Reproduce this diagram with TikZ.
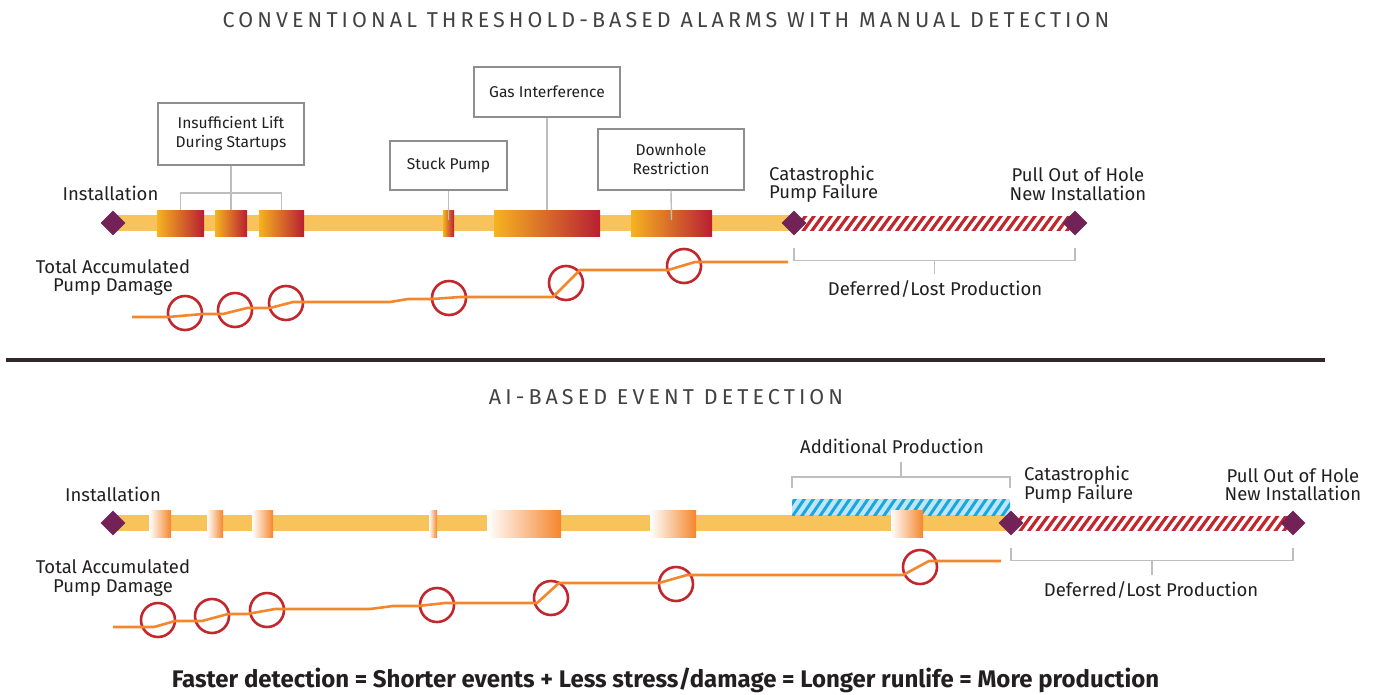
\documentclass[tikz,border=0pt]{standalone}
\usepackage{fontspec}
\setmainfont{Fira Sans}
\newfontfamily\titlefont[LetterSpace=19]{Fira Sans}
\usetikzlibrary{shapes.geometric,calc}
\pgfdeclarelayer{bg}
\pgfsetlayers{bg,main}
\definecolor{barc}{HTML}{F9C35B}
\definecolor{plum}{HTML}{722257}
\definecolor{gy}{HTML}{F5B321}
\definecolor{gm}{HTML}{E0782F}
\definecolor{gr}{HTML}{B81F32}
\definecolor{oc}{HTML}{F4862B}
\definecolor{opale}{HTML}{FAD0AE}
\definecolor{rc}{HTML}{C1272D}
\definecolor{txt}{HTML}{231F20}
\definecolor{boxc}{HTML}{8E8E8E}
\definecolor{conc}{HTML}{BEBEBE}
\definecolor{bluef}{HTML}{BFE6F8}
\definecolor{blues}{HTML}{1AA7E0}
\tikzset{
 pdiamond/.style={diamond, fill=plum, minimum width=25pt, minimum height=25pt, inner sep=0pt},
 evtop/.style={rectangle, left color=gy, middle color=gm, right color=gr, minimum height=26pt, inner sep=0pt},
 evbot/.style={rectangle, left color=white, middle color=opale, right color=oc, minimum height=27pt, inner sep=0pt},
 evbox/.style={draw=boxc, line width=1.4pt, fill=white, inner sep=0pt, font=\fontsize{15.6}{19}\selectfont, text=txt, align=center},
 lbl/.style={font=\fontsize{18.5}{18.5}\selectfont, text=txt, align=center, inner sep=0pt},
 conn/.style={draw=conc, line width=1.4pt},
 barline/.style={draw=barc, line width=16pt},
 dmg/.style={draw=oc, line width=2.6pt, line join=round},
 circ/.style={circle, draw=rc, line width=2.6pt, minimum size=34pt, inner sep=0pt},
 ttl/.style={font=\titlefont\fontsize{21.5}{24}\selectfont, text=txt!85, inner sep=0pt},
 rstripe/.style={draw=rc, line width=3.2pt},
 bstripe/.style={draw=blues, line width=3pt},
}
\begin{document}
\begin{tikzpicture}[x=1pt,y=-1pt]
\useasboundingbox (0,0) rectangle (1376,694);

% ---------------- TOP SECTION ----------------
\node[ttl] (title1) at (666,20) {CONVENTIONAL THRESHOLD-BASED ALARMS WITH MANUAL DETECTION};

\node[pdiamond] (inst1) at (113,223) {};
\node[pdiamond] (cat1) at (794,223) {};
\node[pdiamond] (pull1) at (1075,223) {};

\begin{pgfonlayer}{bg}
\draw[barline] (inst1.center) -- (cat1.center);
\begin{scope}
\clip ([yshift=7pt]cat1.center) rectangle ([yshift=-7pt]pull1.center);
\foreach \i in {-1,...,34} \draw[rstripe] ({794+\i*8.5},232) -- ++(13,-18);
\end{scope}
\end{pgfonlayer}

\node[evtop, minimum width=47pt] (e1) at (180.5,223) {};
\node[evtop, minimum width=32pt] (e2) at (231,223) {};
\node[evtop, minimum width=45pt] (e3) at (281.5,223) {};
\node[evtop, minimum width=11pt] (e4) at (448.5,223) {};
\node[evtop, minimum width=106pt] (e5) at (547,223) {};
\node[evtop, minimum width=81pt] (e6) at (671.5,223) {};

\node[evbox, minimum width=146pt, minimum height=62pt] (b1) at (231,134) {Insufficient Lift\\During Startups};
\node[evbox, minimum width=117pt, minimum height=49pt] (b2) at (448.5,165.5) {Stuck Pump};
\node[evbox, minimum width=146pt, minimum height=50pt] (b3) at (547,92) {Gas Interference};
\node[evbox, minimum width=146pt, minimum height=61pt] (b4) at (671,159.5) {Downhole\\Restriction};

\draw[conn] (b1.south) -- (e2.north);
\draw[conn] (e1.north) -- ++(0,-17) -| (e3.north);
\draw[conn] (b2.south) -- ([yshift=3pt]e4.center);
\draw[conn] (b3.south) -- (e5.north);
\draw[conn] (b4.south) -- ([yshift=3pt]e6.center);

\node[lbl] (instl1) at (110.5,193) {Installation};
\node[lbl, anchor=west, align=left] (catl1) at (769,184) {Catastrophic\\Pump Failure};
\node[lbl] (pulll1) at (1078,184) {Pull Out of Hole\\New Installation};
\node[lbl] (dmgl1) at (113,277.5) {Total Accumulated\\Pump Damage};
\node[lbl] (def1) at (935,289) {Deferred/Lost Production};

\draw[conn] ([yshift=-12pt]cat1.south) -- ([yshift=-24.5pt]cat1.south) -| ([yshift=-12pt]pull1.south);
\draw[conn] ($([yshift=-24.5pt]cat1.south)!0.5!([yshift=-24.5pt]pull1.south)$) -- ++(0,14);

\foreach \n/\p in {c1/{(185,313)},c2/{(235,310)},c3/{(286,303)},c4/{(449,298)},c5/{(566,283)},c6/{(684,266)}}
  \node[circ] (\n) at \p {};

\draw[dmg] (132,317) -- (168,317) -- (203,314) -- (223,314) -- (247,308) -- (270,308) -- (293,302) -- (390,302) -- (408,299) -- (432,299) -- (460,297) -- (553,297) -- (580,270) -- (668,270) -- (695,262) -- (788,262);

% divider
\draw[line width=3.5pt, draw=txt!95] (6,360) -- (1325,360);

% ---------------- BOTTOM SECTION ----------------
\node[ttl] (title2) at (666,397) {AI-BASED EVENT DETECTION};

\node[pdiamond] (inst2) at (113,523) {};
\node[pdiamond] (cat2) at (1011,523) {};
\node[pdiamond] (pull2) at (1293,523) {};

\coordinate (hal) at (792,488);
\coordinate (har) at (1010,488);

\begin{pgfonlayer}{bg}
\draw[barline] (inst2.center) -- (cat2.center);
\fill[bluef] (792,499) rectangle (1010,515);
\begin{scope}
\clip (792,499) rectangle (1010,515);
\foreach \i in {-1,...,25} \draw[bstripe] ({792+\i*9.1},517) -- ++(13,-19);
\end{scope}
\begin{scope}
\clip ([yshift=7pt]cat2.center) rectangle ([yshift=-7pt]pull2.center);
\foreach \i in {-1,...,34} \draw[rstripe] ({1011+\i*8.5},532) -- ++(13,-18);
\end{scope}
\end{pgfonlayer}

\node[evbot, minimum width=22pt] (f1) at (160,523.5) {};
\node[evbot, minimum width=16pt] (f2) at (215,523.5) {};
\node[evbot, minimum width=21pt] (f3) at (262.5,523.5) {};
\node[evbot, minimum width=8pt] (f4) at (433,523.5) {};
\node[evbot, minimum width=74pt] (f5) at (524,523.5) {};
\node[evbot, minimum width=46pt] (f6) at (673,523.5) {};
\node[evbot, minimum width=32pt] (f7) at (907,523.5) {};

\draw[conn] (hal) -- ++(0,-11) -| (har);
\draw[conn] ($(hal)!0.5!(har)+(0,-11)$) -- ++(0,-15);

\node[lbl] (addl) at (892,446) {Additional Production};
\node[lbl] (instl2) at (113,494) {Installation};
\node[lbl] (dmgl2) at (113,578) {Total Accumulated\\Pump Damage};
\node[lbl, anchor=west, align=left] (catl2) at (1024,484.5) {Catastrophic\\Pump Failure};
\node[lbl] (pulll2) at (1293,484.5) {Pull Out of Hole\\New Installation};
\node[lbl] (def2) at (1151,590) {Deferred/Lost Production};

\draw[conn] ([yshift=-12.5pt]cat2.south) -- ([yshift=-24.5pt]cat2.south) -| ([yshift=-12.5pt]pull2.south);
\draw[conn] ($([yshift=-24.5pt]cat2.south)!0.5!([yshift=-24.5pt]pull2.south)$) -- ++(0,15);

\foreach \n/\p in {d1/{(158,620)},d2/{(212,616)},d3/{(267,610)},d4/{(437,605)},d5/{(551,598)},d6/{(676,584)},d7/{(920,567)}}
  \node[circ] (\n) at \p {};

\draw[dmg] (113,627) -- (154,627) -- (175,621) -- (202,621) -- (228,614) -- (247,614) -- (275,609) -- (370,609) -- (393,606) -- (418,606) -- (445,603) -- (537,603) -- (559,583) -- (659,583) -- (687,575) -- (903,575) -- (929,561) -- (1001,561);

\node[font=\bfseries\fontsize{24}{26}\selectfont, text=txt, inner sep=0pt] (summary) at (665.5,680) {Faster detection = Shorter events + Less stress/damage = Longer runlife = More production};
\end{tikzpicture}
\end{document}
